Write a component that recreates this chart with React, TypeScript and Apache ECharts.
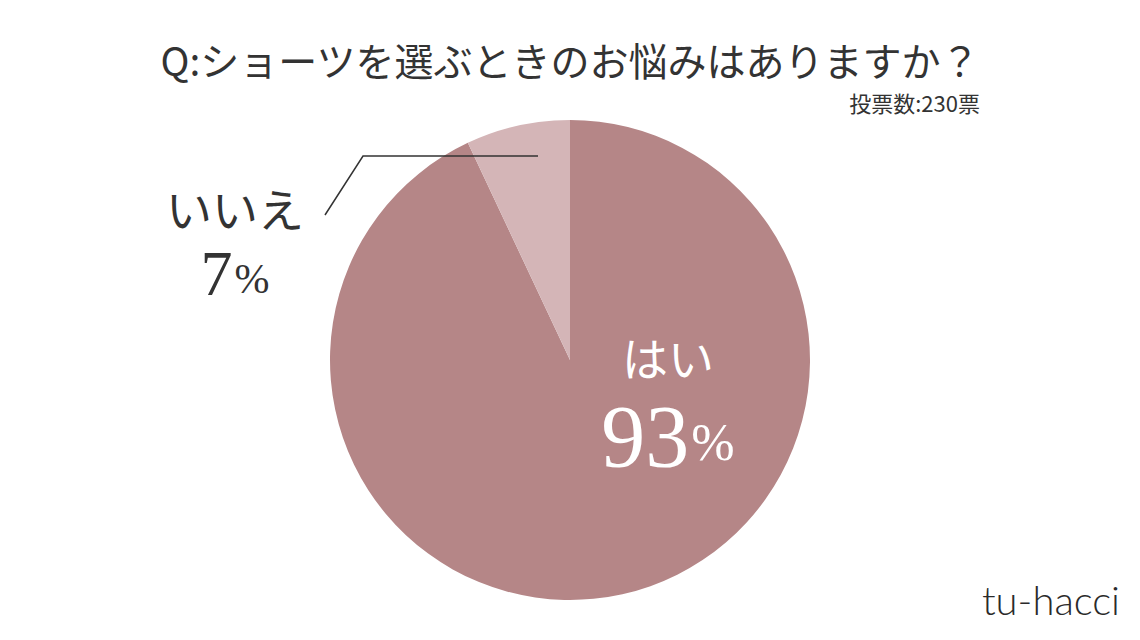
import React, { useEffect, useRef } from "react";
import * as echarts from "echarts";

const title = "Q:ショーツを選ぶときのお悩みはありますか？";
const subtitle = "投票数:230票";
const categories = ["はい", "いいえ"];
const values = [93, 7];
const colors = ["#b58687", "#d4b5b7"];
const brand = "tu-hacci";

export default function App() {
  const ref = useRef<HTMLDivElement>(null);
  useEffect(() => {
    document.body.style.margin = "0";
    const chart = echarts.init(ref.current!, null, { renderer: "svg" });
    const cx = 570, cy = 360, r = 240;
    chart.setOption({
      animation: false,
      backgroundColor: "#ffffff",
      title: [
        {
          text: title,
          left: "center",
          top: 34,
          textStyle: { fontFamily: "Noto Sans CJK JP", fontSize: 39, fontWeight: "normal", color: "#333" },
        },
        {
          text: subtitle,
          right: 155,
          top: 86,
          textStyle: { fontFamily: "Noto Sans CJK JP", fontSize: 22, fontWeight: "normal", color: "#333" },
        },
      ],
      series: [
        {
          type: "pie",
          center: [cx, cy],
          radius: [0, r],
          startAngle: 90,
          clockwise: true,
          silent: true,
          data: categories.map((c, i) => ({
            name: c,
            value: values[i],
            itemStyle: { color: colors[i] },
            label: i === 0
              ? {
                  show: true,
                  position: "inside",
                  formatter: "{a|{b}}\n{n|{c}}{p|%}",
                  rich: {
                    a: { fontFamily: "Noto Sans CJK JP", fontSize: 46, color: "#fff", lineHeight: 80 },
                    n: { fontFamily: "Liberation Serif", fontSize: 88, color: "#fff", lineHeight: 80 },
                    p: { fontFamily: "Liberation Serif", fontSize: 52, color: "#fff", lineHeight: 80, verticalAlign: "bottom", padding: [0, 0, 8, 2] },
                  },
                }
              : {
                  show: true,
                  position: "outside",
                  formatter: "{a|{b}}\n{n|{c}}{p|%}",
                  rich: {
                    a: { fontFamily: "Noto Sans CJK JP", fontSize: 46, color: "#333", lineHeight: 66 },
                    n: { fontFamily: "Liberation Serif", fontSize: 64, color: "#333", lineHeight: 66 },
                    p: { fontFamily: "Liberation Serif", fontSize: 42, color: "#333", lineHeight: 66, verticalAlign: "bottom", padding: [0, 0, 6, 2] },
                  },
                },
            labelLine: { show: false },
          })),
          labelLayout: (params: any) => {
            if (params.dataIndex === 0) {
              return { x: 668, y: 396, align: "center", verticalAlign: "middle" };
            }
            return { x: 235, y: 240, align: "center", verticalAlign: "middle" };
          },
        },
      ],
      graphic: [
        {
          type: "polyline",
          shape: { points: [[538, 156], [363, 156], [325, 215]] },
          style: { stroke: "#333", lineWidth: 1.5, fill: "none" },
          z: 10,
        },
        {
          type: "text",
          right: 20,
          top: 580,
          style: { text: brand, fontFamily: "Lato", fontWeight: 300, fontSize: 40, fill: "#2a2a2a" },
        },
      ],
    });
    return () => chart.dispose();
  }, []);
  return <div ref={ref} style={{ width: 1140, height: 640 }} />;
}
